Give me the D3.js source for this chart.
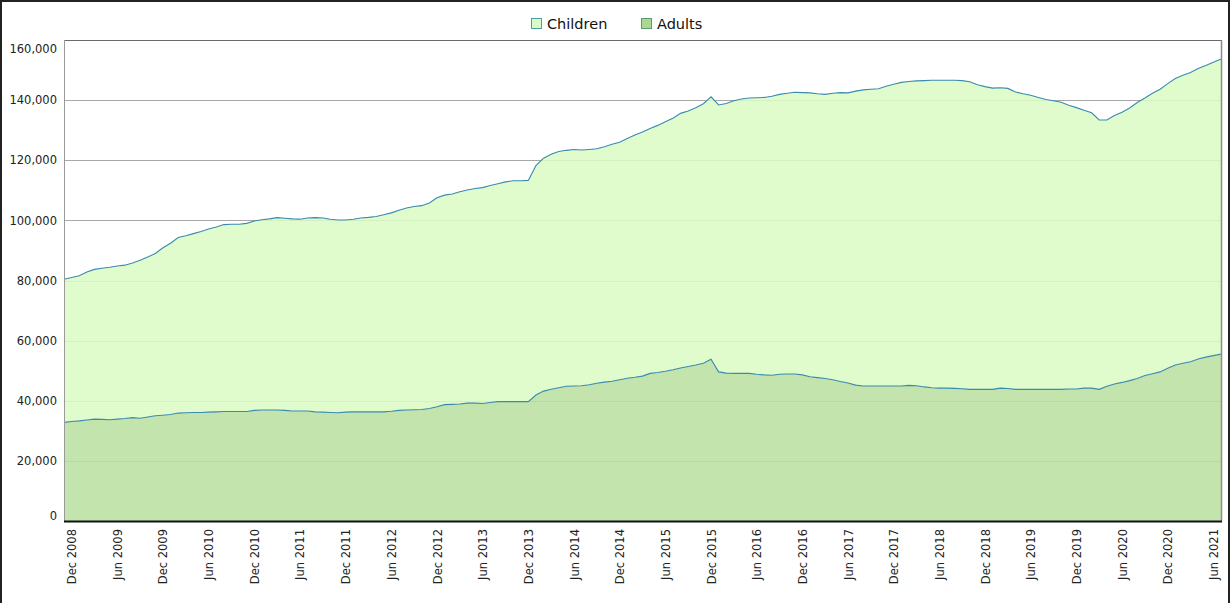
<!DOCTYPE html>
<html><head><meta charset="utf-8">
<script src="https://cdn.jsdelivr.net/npm/d3@7"></script>
<style>
body{margin:0;background:#fff;}
svg{display:block;font-family:"DejaVu Sans",Verdana,sans-serif;}
</style></head>
<body><svg id="c" width="1231" height="603"></svg>
<script>
// Monthly categories Nov 2008 .. Jul 2021
const startMonth = "2008-11";
const endMonth = "2021-07";
const seriesNames = ["Adults", "Children"];
const adults = [32800,33100,33300,33600,33900,33800,33700,33900,34100,34400,34200,34600,35000,35200,35400,35900,36000,36100,36100,36200,36300,36400,36400,36400,36400,36800,36900,36900,36900,36800,36600,36600,36600,36300,36200,36100,36000,36200,36300,36300,36300,36300,36300,36500,36800,36900,37000,37100,37400,38000,38700,38800,38900,39200,39200,39100,39400,39700,39700,39700,39700,39700,41900,43200,43800,44300,44800,44900,45000,45300,45800,46200,46500,47000,47500,47800,48200,49100,49400,49800,50300,50900,51400,51900,52500,53800,49600,49200,49100,49100,49100,48800,48600,48500,48800,48900,48900,48600,48000,47700,47400,47000,46400,45900,45200,44900,44900,44900,44900,44900,44900,45100,45000,44600,44300,44200,44200,44100,44000,43800,43800,43800,43800,44200,44100,43800,43800,43800,43800,43800,43800,43800,43900,43900,44200,44200,43800,44800,45600,46100,46700,47400,48400,49000,49600,50800,51900,52500,53000,53900,54500,55000,55500];
const children = [47600,47900,48300,49200,49800,50300,50700,50900,51000,51400,52500,53200,54000,55700,57000,58400,58900,59500,60200,60900,61500,62200,62300,62300,62600,63000,63300,63600,64000,63900,63900,63800,64200,64600,64600,64300,64100,63900,64100,64500,64700,65000,65600,66000,66600,67200,67600,67800,68400,69500,69700,70000,70600,70900,71400,71800,72200,72500,73100,73500,73500,73600,76300,77500,78200,78600,78500,78700,78400,78300,78000,78300,78800,79000,79700,80600,81200,81500,82200,83000,83700,84700,85000,85600,86300,87300,88800,89700,90700,91300,91600,92000,92300,92800,93100,93400,93700,93900,94400,94400,94500,95300,96100,96500,97800,98500,98700,98900,99700,100400,101000,101100,101400,101900,102300,102400,102400,102500,102500,102300,101300,100700,100200,99900,99800,98900,98300,97800,97100,96400,96000,95500,94400,93600,92400,91600,89600,88600,89300,89900,90700,91800,92300,93300,94000,94700,95300,95800,96200,96600,97000,97600,98200];
const yTicks = [0,20000,40000,60000,80000,100000,120000,140000,160000];
const xTickMonths = ["Dec","Jun"];

const parse = d3.utcParse("%Y-%m");
const months = d3.utcMonth.range(parse(startMonth), d3.utcMonth.offset(parse(endMonth),1));
const keys = months.map(d3.utcFormat("%Y-%m"));
const data = keys.map((k,i)=>({key:k, Adults:adults[i], Children:children[i]}));

const svg = d3.select("#c");
const L=64, R=1221, T=40, B=521;
const x = d3.scalePoint().domain(keys).range([L,R]);
const y = d3.scaleLinear().domain([0,160000]).range([B,T]);

// outer frame
svg.append("rect").attr("x",1).attr("y",1).attr("width",1228).attr("height",620)
  .attr("fill","#fff").attr("stroke","#222").attr("stroke-width",2);

// gridlines
svg.append("g").selectAll("line").data(yTicks.filter(v=>v>0)).join("line")
  .attr("x1",L).attr("x2",R).attr("y1",d=>Math.round(y(d))+0.5).attr("y2",d=>Math.round(y(d))+0.5)
  .attr("stroke",d=>d===160000?"#6a6a6a":"#a8a8a8").attr("stroke-width",1);

const stack = d3.stack().keys(seriesNames)(data);
const fills = {Adults:"#b9e0a0", Children:"#dbfbc4"};
const area = d3.area().x(d=>x(d.data.key)).y0(d=>y(d[0])).y1(d=>y(d[1]));
const line = d3.line().x(d=>x(d.data.key)).y(d=>y(d[1]));
svg.append("g").selectAll("path").data(stack).join("path")
  .attr("d",area).attr("fill",d=>fills[d.key]).attr("fill-opacity",0.86);
svg.append("g").selectAll("path").data(stack).join("path")
  .attr("d",line).attr("fill","none").attr("stroke","#3a8ab0").attr("stroke-width",1.1);

// frame lines
svg.append("line").attr("x1",L+0.5).attr("x2",L+0.5).attr("y1",T).attr("y2",B).attr("stroke","#9a9a9a");
svg.append("line").attr("x1",R+0.5).attr("x2",R+0.5).attr("y1",T).attr("y2",B).attr("stroke","#8a8a8a").attr("stroke-width",1.5);

// y axis labels
const yAxis = svg.append("g").attr("transform",`translate(${L},0)`)
  .call(d3.axisLeft(y).tickValues(yTicks).tickSize(0).tickPadding(7).tickFormat(d3.format(",")));
yAxis.select(".domain").remove();
yAxis.selectAll("text").attr("font-size",11.5).attr("fill","#222").attr("font-family","DejaVu Sans, sans-serif")
  .attr("dy",d=>d===160000?"1.05em":(d===0?"-0.1em":"0.32em"));

// x axis
const xAxis = svg.append("g").attr("transform",`translate(0,${B})`)
  .call(d3.axisBottom(x).tickValues(keys.filter(k=>{const m=d3.utcFormat("%b")(parse(k));return xTickMonths.includes(m);}))
    .tickSize(0).tickFormat(k=>d3.utcFormat("%b %Y")(parse(k))));
xAxis.select(".domain").attr("stroke","#111").attr("stroke-width",2.2).attr("d",`M${L},0.5H${R+1}`);
xAxis.selectAll("text").attr("font-size",11.5).attr("fill","#222").attr("font-family","DejaVu Sans, sans-serif")
  .attr("transform","rotate(-90)").attr("text-anchor","end").attr("x",-8).attr("y",0).attr("dy","0.35em");

// legend
const leg = svg.append("g").attr("transform","translate(531,18)");
const legItems = [{name:"Children",fill:"#dbfbc4",stroke:"#4aa0a8",x:0},{name:"Adults",fill:"#a9d88e",stroke:"#5a9a70",x:110}];
const li = leg.selectAll("g").data(legItems).join("g").attr("transform",d=>`translate(${d.x},0)`);
li.append("rect").attr("x",0.5).attr("y",0.5).attr("width",10).attr("height",10).attr("fill",d=>d.fill).attr("stroke",d=>d.stroke);
li.append("text").attr("x",16).attr("y",6).attr("dy","0.35em").attr("font-size",14.5).attr("fill","#111").text(d=>d.name);
</script></body></html>
